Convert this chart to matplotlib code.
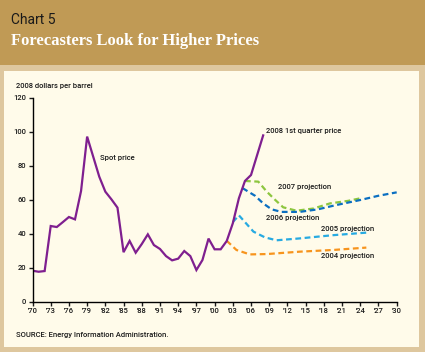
import matplotlib
matplotlib.use("Agg")
import matplotlib.pyplot as plt
from matplotlib.patches import Rectangle

# spot price, 2008 dollars per barrel (last point = 2008 1st quarter)
spot_years = list(range(1970, 2007)) + [2008]
spot_vals = [18.4, 17.8, 18.2, 44.7, 44.1, 47.0, 50.0, 48.6, 65.3, 97.3,
             85.5, 73.7, 64.9, 60.4, 55.5, 29.3, 35.9, 29.0, 34.1, 39.8,
             33.5, 31.2, 27.0, 24.5, 25.5, 30.0, 27.0, 18.8, 24.7, 37.3,
             31.0, 31.0, 35.9, 46.3, 61.0, 71.2, 74.7, 98.0]

# projections
p2004_years = [2002, 2003.6, 2005.8, 2008.6, 2014, 2019.5, 2025]
p2004_vals = [36.0, 30.6, 28.0, 28.2, 29.6, 30.6, 32.0]

p2005_years = [2003, 2004, 2006.4, 2008.3, 2010.2, 2014, 2019.5, 2025]
p2005_vals = [47.0, 51.0, 41.4, 38.0, 36.3, 37.4, 39.3, 40.8]

p2006_years = [2004.6, 2006.7, 2008, 2009.4, 2011, 2014, 2017, 2020, 2024, 2027, 2030]
p2006_vals = [67.0, 62.4, 58.0, 54.5, 53.0, 53.0, 54.5, 57.0, 60.0, 62.5, 64.5]

p2007_years = [2005, 2007.2, 2008.6, 2010, 2011.3, 2013.5, 2016.3, 2019, 2022, 2024]
p2007_vals = [71.2, 70.8, 64.9, 60.0, 55.7, 53.7, 55.0, 58.0, 59.5, 61.0]

xticks = list(range(1970, 2031, 3))
xlabels = ["'" + str(y)[2:] for y in xticks]
yticks = [0, 20, 40, 60, 80, 100, 120]

W, H = 425, 352
fig = plt.figure(figsize=(W / 100, H / 100), dpi=100)
fig.patch.set_facecolor("#DEC79E")

# background blocks
fig.add_artist(Rectangle((0, 1 - 64.5 / H), 1, 64.5 / H, transform=fig.transFigure,
                         facecolor="#C09A55", edgecolor="none", zorder=0))
fig.add_artist(Rectangle((4 / W, 1 - 347 / H), 415 / W, 276 / H, transform=fig.transFigure,
                         facecolor="#FFFBEA", edgecolor="none", zorder=0))

small = ["Roboto", "DejaVu Sans"]

fig.text(11 / W, 1 - 20 / H, "Chart 5", fontsize=10, color="#1a1a1a",
         family=small, va="center", ha="left")
fig.text(11 / W, 1 - 41 / H, "Forecasters Look for Higher Prices", fontsize=12,
         color="white", family="Liberation Serif", weight="bold", va="center", ha="left")

ax = fig.add_axes([32.5 / W, (H - 302) / H, 364.2 / W, 204 / H])
ax.set_facecolor("none")
ax.set_xlim(1970, 2030)
ax.set_ylim(0, 120)

for s in ["top", "right"]:
    ax.spines[s].set_visible(False)
for s in ["left", "bottom"]:
    ax.spines[s].set_linewidth(1.0)

ax.set_xticks(xticks)
ax.set_xticklabels(xlabels)
ax.set_yticks(yticks)
ax.tick_params(length=3, width=1.0, labelsize=5.5, pad=1.5, colors="#1a1a1a")
for lab in ax.get_xticklabels() + ax.get_yticklabels():
    lab.set_family(small)
    lab.set_weight("medium")

dash = (0, (2.6, 1.6))
ax.plot(p2004_years, p2004_vals, color="#F7941D", lw=1.6, linestyle=dash)
ax.plot(p2005_years, p2005_vals, color="#27AAE1", lw=1.6, linestyle=dash)
ax.plot(p2007_years, p2007_vals, color="#8DC63F", lw=1.6, linestyle=dash)
ax.plot(p2006_years, p2006_vals, color="#0B6FC1", lw=1.6, linestyle=dash)
ax.plot(spot_years, spot_vals, color="#7F1F8F", lw=1.6, solid_joinstyle="miter")

lab_kw = dict(fontsize=5.5, family=small, weight="medium",
              color="#1a1a1a", va="center", ha="left")
ax.text(1981.2, 84.5, "Spot price", **lab_kw)
ax.text(2008.5, 100.5, "2008 1st quarter price", **lab_kw)
ax.text(2010.4, 67.5, "2007 projection", **lab_kw)
ax.text(2008.5, 49.5, "2006 projection", **lab_kw)
ax.text(2017.6, 43.0, "2005 projection", **lab_kw)
ax.text(2017.5, 27.0, "2004 projection", **lab_kw)

fig.text(15.5 / W, 1 - 86 / H, "2008 dollars per barrel", fontsize=5.5, weight="medium",
         family=small, color="#1a1a1a", va="center")
fig.text(15.5 / W, 1 - 335 / H, "SOURCE: Energy Information Administration.", fontsize=5.5,
         weight="medium", family=small, color="#1a1a1a", va="center")

fig.savefig("out.png", dpi=100, facecolor=fig.get_facecolor())
